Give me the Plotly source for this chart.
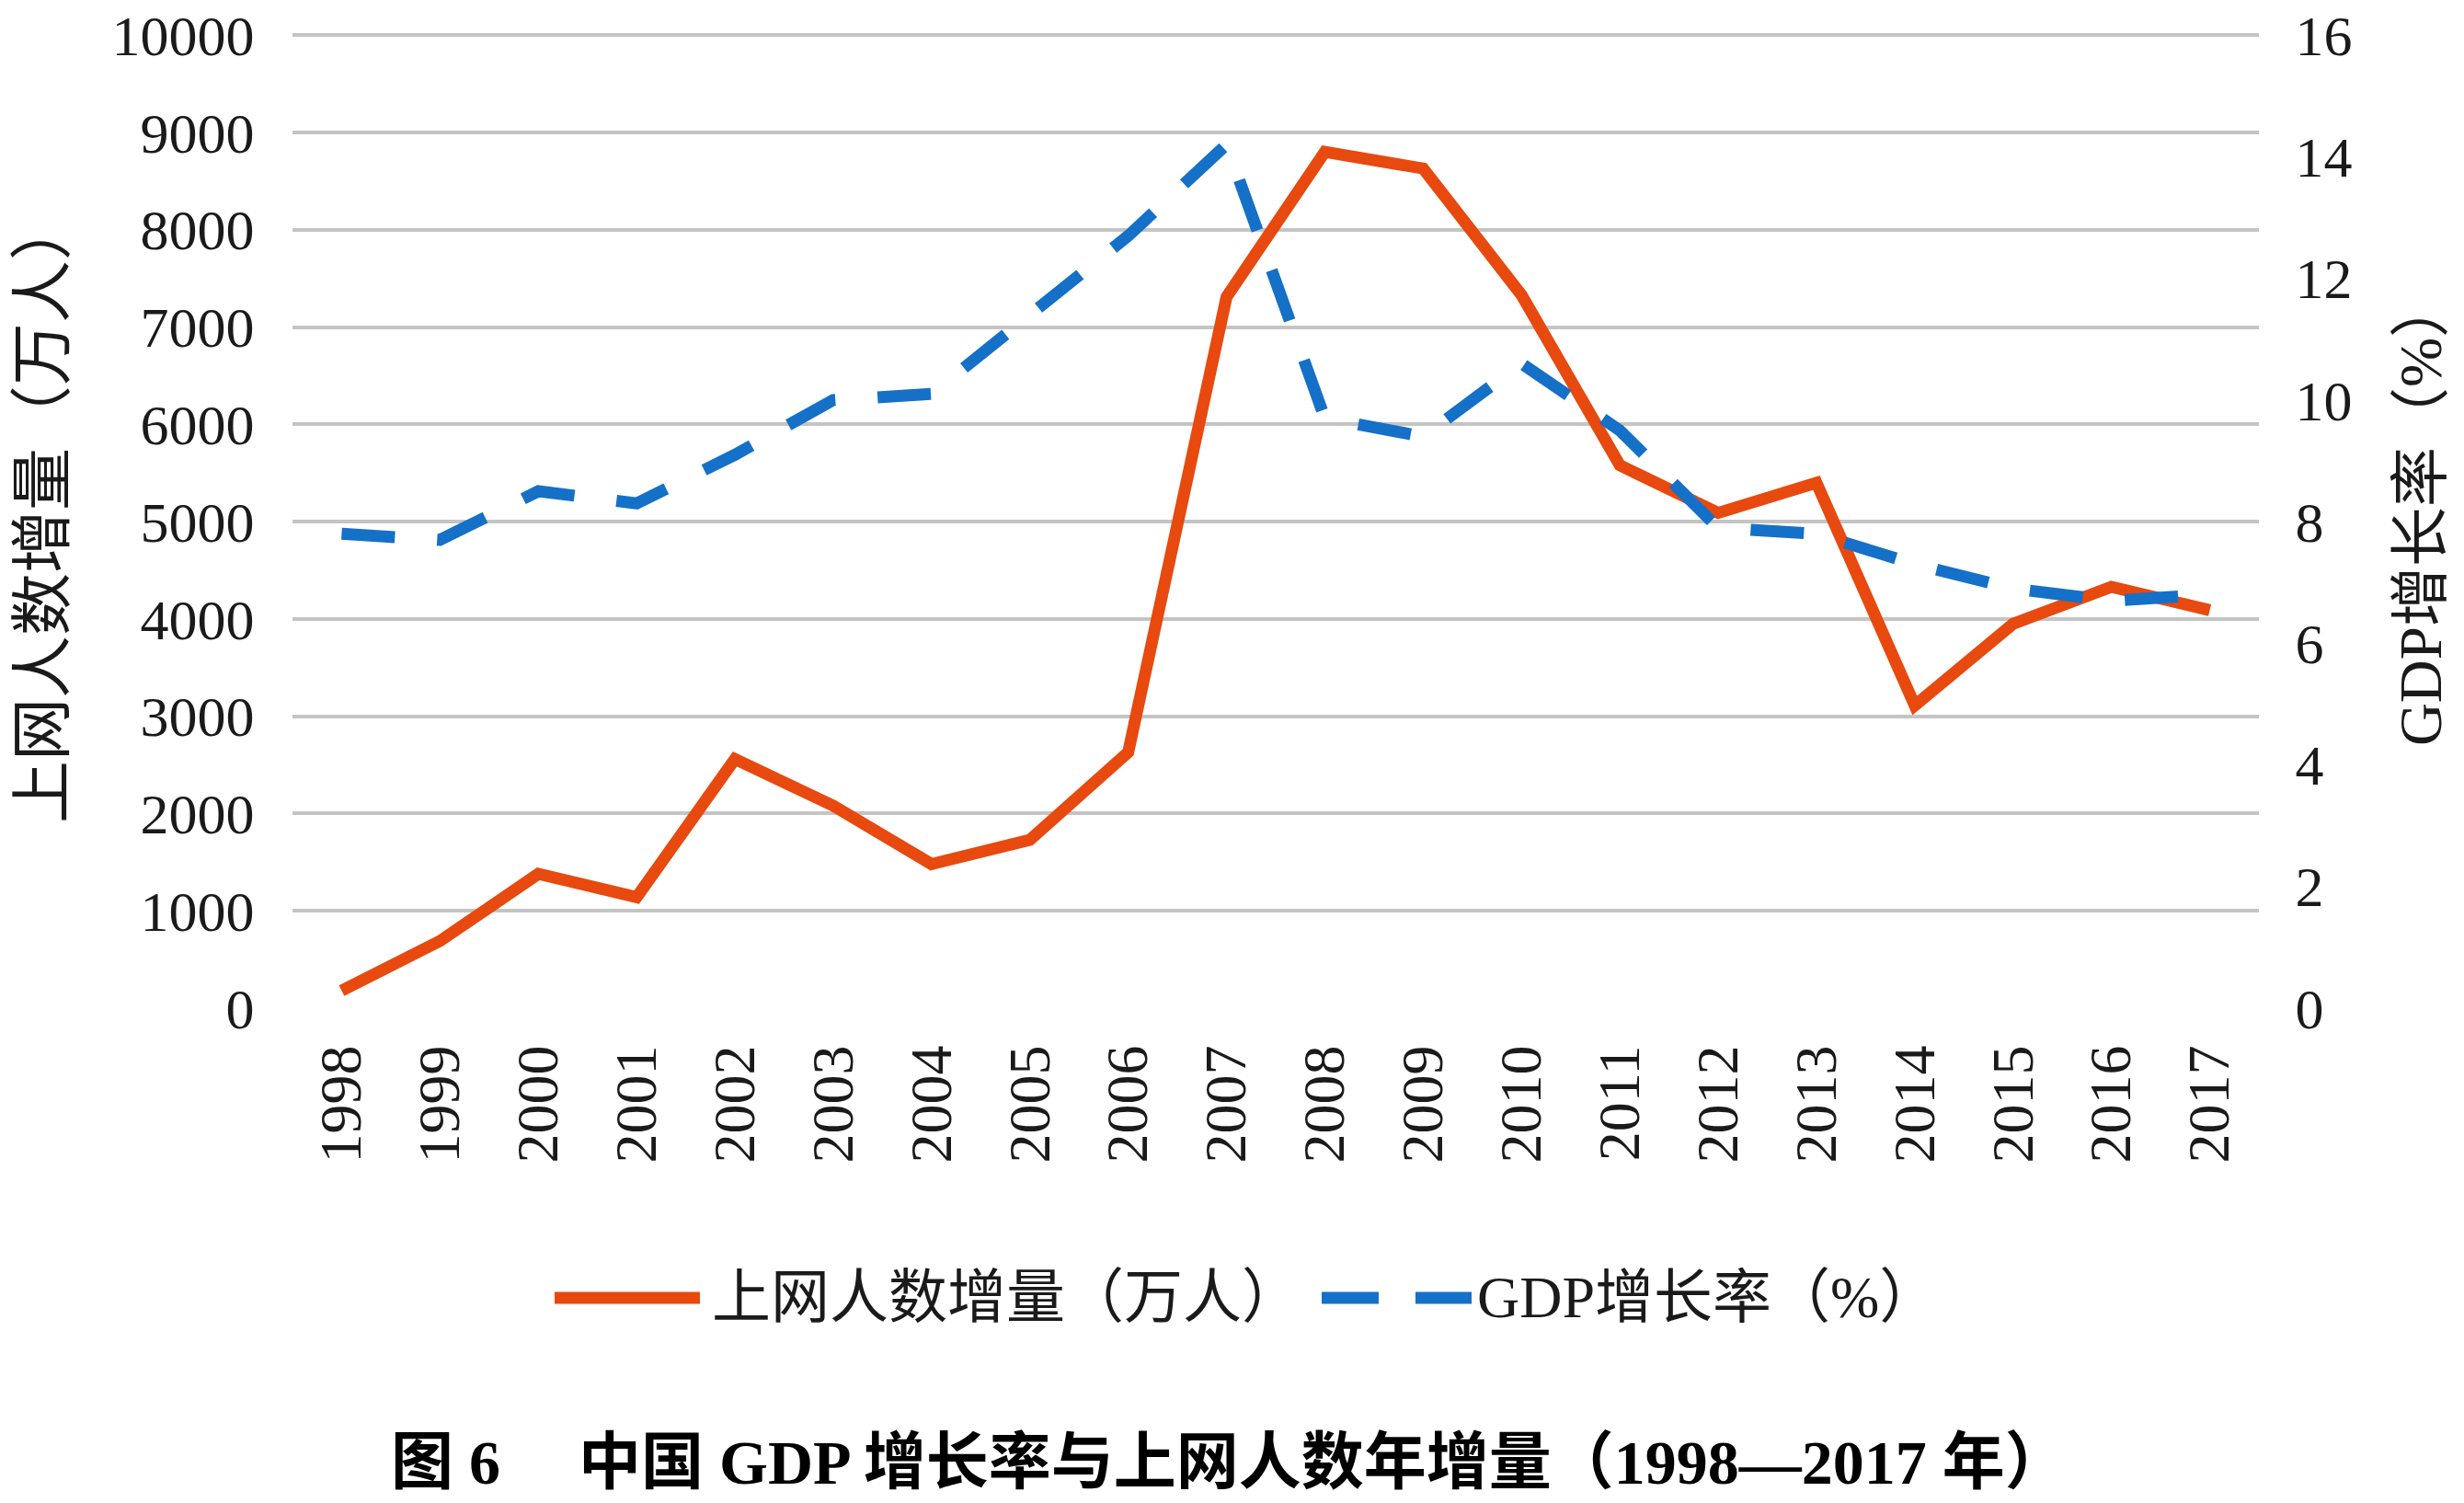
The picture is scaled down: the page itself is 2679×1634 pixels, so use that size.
import plotly.graph_objects as go

years = [str(y) for y in range(1998, 2018)]
netizen_increase = [180, 690, 1380, 1140, 2560, 2080, 1480, 1730, 2630, 7310,
                    8800, 8630, 7330, 5580, 5090, 5400, 3110, 3950, 4330, 4090]
gdp_growth = [7.8, 7.7, 8.5, 8.3, 9.1, 10.0, 10.1, 11.4, 12.7, 14.2,
              9.7, 9.4, 10.6, 9.5, 7.9, 7.8, 7.3, 6.9, 6.7, 6.8]

name1 = "上网人数增量（万人）"
name2 = "GDP增长率（%）"
left_title = "上网人数增量（万人）"
right_title = "GDP增长率（%）"
caption = "图 6　 中国 GDP 增长率与上网人数年增量（1998—2017 年）"

ORANGE = "#E8490F"
BLUE = "#1570C8"
GRID = "#C4C4C4"
FONT = "Liberation Serif, Noto Sans CJK SC, serif"
LW = 13
DASH = "58px,46px"

W, H = 2679, 1634
PAD = 1.004  # small headroom so the top gridline is drawn
L, R, B = 318, 2456, 1096
T = B - (B - 38) * PAD

fig = go.Figure()
fig.add_trace(go.Scatter(x=years, y=netizen_increase, name=name1, mode="lines",
                         line=dict(color=ORANGE, width=LW), yaxis="y"))
fig.add_trace(go.Scatter(x=years, y=gdp_growth, name=name2, mode="lines",
                         line=dict(color=BLUE, width=LW, dash=DASH), yaxis="y2"))

def px(x):
    return (x - L) / (R - L)

def py(y):
    return (B - y) / (B - T)

leg_y = py(1411)
shapes = [
    dict(type="line", xref="paper", yref="paper", x0=px(603), x1=px(761), y0=leg_y, y1=leg_y,
         line=dict(color=ORANGE, width=LW)),
    dict(type="line", xref="paper", yref="paper", x0=px(1437), x1=px(1600), y0=leg_y, y1=leg_y,
         line=dict(color=BLUE, width=LW, dash="62px,40px")),
]
annotations = [
    dict(text=name1, xref="paper", yref="paper", x=px(772), y=leg_y, xanchor="left", yanchor="middle",
         showarrow=False, font=dict(family=FONT, size=64, color="#1a1a1a")),
    dict(text=name2, xref="paper", yref="paper", x=px(1604), y=leg_y, xanchor="left", yanchor="middle",
         showarrow=False, font=dict(family=FONT, size=64, color="#1a1a1a")),
    dict(text=left_title, xref="paper", yref="paper", x=px(47), y=py(555), xanchor="center", yanchor="middle",
         textangle=-90, showarrow=False, font=dict(family=FONT, size=68, color="#1a1a1a")),
    dict(text=right_title, xref="paper", yref="paper", x=px(2632), y=py(557), xanchor="center", yanchor="middle",
         textangle=-90, showarrow=False, font=dict(family=FONT, size=65, color="#1a1a1a")),
    dict(text="<b>" + caption + "</b>", xref="paper", yref="paper", x=px(1336), y=py(1590),
         xanchor="center", yanchor="middle", showarrow=False,
         font=dict(family=FONT, size=68, color="#000000")),
]

fig.update_layout(
    width=W, height=H,
    margin=dict(l=L, r=W - R, t=T, b=H - B, autoexpand=False),
    paper_bgcolor="white", plot_bgcolor="white",
    showlegend=False,
    font=dict(family=FONT, size=60, color="#1a1a1a"),
    xaxis=dict(type="category", range=[-0.5, len(years) - 0.5], tickangle=-90,
               showgrid=False, zeroline=False, showline=False, automargin=False,
               ticks="outside", ticklen=14, tickcolor="rgba(0,0,0,0)",
               tickfont=dict(family=FONT, size=64, color="#1a1a1a")),
    yaxis=dict(range=[0, 10000 * PAD], tick0=0, dtick=1000, tickformat="d",
               showgrid=True, gridcolor=GRID, gridwidth=4,
               zeroline=False, showline=False, automargin=False, ticklabeloverflow="allow",
               ticks="outside", ticklen=28, tickcolor="rgba(0,0,0,0)",
               tickfont=dict(family=FONT, size=62, color="#1a1a1a")),
    yaxis2=dict(range=[0, 16 * PAD], tick0=0, dtick=2, tickformat="d", overlaying="y", side="right",
                showgrid=False, zeroline=False, showline=False, automargin=False, ticklabeloverflow="allow",
                ticks="outside", ticklen=26, tickcolor="rgba(0,0,0,0)",
                tickfont=dict(family=FONT, size=62, color="#1a1a1a")),
    shapes=shapes,
    annotations=annotations,
)

fig.write_html("out.html", config={"displayModeBar": False},
               post_script="document.body.style.margin='0';document.body.style.overflow='hidden';")
